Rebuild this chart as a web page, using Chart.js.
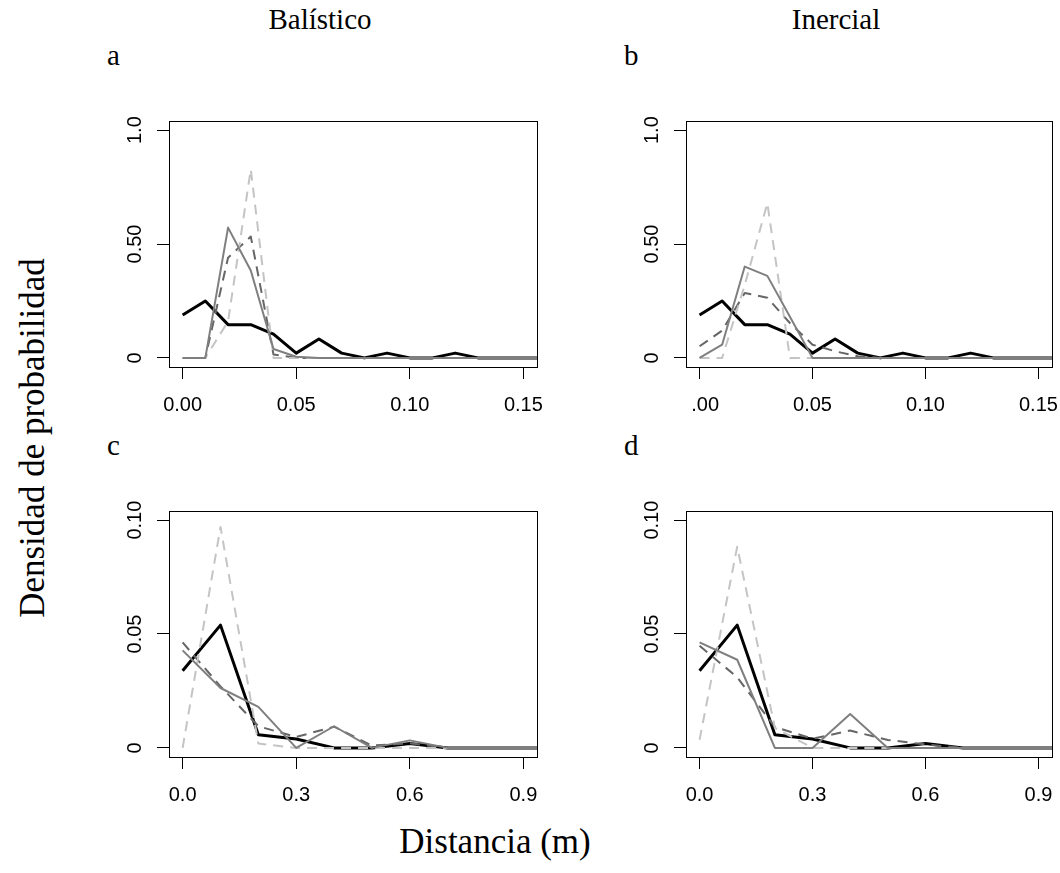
<!DOCTYPE html>
<html><head><meta charset="utf-8">
<script src="https://cdn.jsdelivr.net/npm/chart.js@4.4.1/dist/chart.umd.min.js"></script>
<style>
html,body{margin:0;padding:0;background:#fff;}
#wrap{position:relative;width:1060px;height:873px;overflow:hidden;background:#fff;}
.serif{position:absolute;font-family:"Liberation Serif","Times New Roman",serif;font-size:29px;line-height:30px;color:#000;white-space:nowrap;}
.big{font-size:35px;line-height:40px;}
canvas{position:absolute;}
</style></head><body>
<div id="wrap">
  <div class="serif" style="left:220px;width:200px;text-align:center;top:4px">Balístico</div>
  <div class="serif" style="left:736px;width:200px;text-align:center;top:4px">Inercial</div>
  <div class="serif" style="left:107px;top:40px">a</div>
  <div class="serif" style="left:624px;top:40px">b</div>
  <div class="serif" style="left:107px;top:430px">c</div>
  <div class="serif" style="left:624px;top:430px">d</div>
  <div class="serif big" style="left:-217px;top:418px;width:500px;text-align:center;transform:rotate(-90deg)">Densidad de probabilidad</div>
  <div class="serif big" style="left:245px;top:822px;width:500px;text-align:center">Distancia (m)</div>
</div>
<script>
// ---------- data ----------
const DIST_TOP = [0.00,0.01,0.02,0.03,0.04,0.05,0.06,0.07,0.08,0.09,0.10,0.11,0.12,0.13,0.14,0.15,0.16,0.17,0.18,0.19,0.20];
const DIST_BOTTOM = [0.0,0.1,0.2,0.3,0.4,0.5,0.6,0.7,0.8,0.9,1.0];

// panel a (Balístico, top)
const A_BLACK = [0.188,0.250,0.146,0.146,0.104,0.021,0.083,0.021,0,0.021,0,0,0.021,0,0,0,0,0,0,0,0];
const A_GRAY  = [0,0,0.572,0.384,0.039,0.005,0,0,0,0,0,0,0,0,0,0,0,0,0,0,0];
const A_DARKDASH  = [0,0,0.440,0.533,0.015,0,0,0,0,0,0,0,0,0,0,0,0,0,0,0,0];
const A_LIGHTDASH = [0,0,0.160,0.828,0,0,0,0,0,0,0,0,0,0,0,0,0,0,0,0,0];
// panel b (Inercial, top)
const B_BLACK = [0.188,0.250,0.146,0.146,0.104,0.021,0.083,0.021,0,0.021,0,0,0.021,0,0,0,0,0,0,0,0];
const B_GRAY  = [0,0.058,0.401,0.360,0.181,0,0,0,0,0,0,0,0,0,0,0,0,0,0,0,0];
const B_DARKDASH  = [0.051,0.120,0.285,0.264,0.153,0.058,0.029,0.007,0,0,0,0,0,0,0,0,0,0,0,0,0];
const B_LIGHTDASH = [0,0,0.320,0.679,0,0,0,0,0,0,0,0,0,0,0,0,0,0,0,0,0];
// panel c (Balístico, bottom)
const C_BLACK = [0.0339,0.0539,0.0058,0.0039,0,0,0.0019,0,0,0,0];
const C_GRAY  = [0.0428,0.0263,0.0180,0,0.0095,0,0.0033,0,0,0,0];
const C_DARKDASH  = [0.0463,0.0270,0.0095,0.0048,0.0093,0.0010,0.0020,0,0,0,0];
const C_LIGHTDASH = [0,0.0970,0.0019,0,0,0,0,0,0,0,0];
// panel d (Inercial, bottom)
const D_BLACK = [0.0339,0.0539,0.0058,0.0039,0,0,0.0019,0,0,0,0];
const D_GRAY  = [0.0463,0.0387,0,0,0.0149,0,0,0,0,0,0];
const D_DARKDASH  = [0.0448,0.0310,0.0092,0.0040,0.0076,0.0035,0.0015,0,0,0,0];
const D_LIGHTDASH = [0.0036,0.0883,0.0088,0,0,0,0,0,0,0,0];

// tick values and labels
const X_TICKS_TOP = [0,0.05,0.10,0.15];
const X_LABELS_TOP_A = ["0.00","0.05","0.10","0.15"];
const X_LABELS_TOP_B = [".00","0.05","0.10","0.15"];
const X_TICKS_BOTTOM = [0,0.3,0.6,0.9];
const X_LABELS_BOTTOM = ["0.0","0.3","0.6","0.9"];
const Y_TICKS_TOP = [0,0.5,1.0];
const Y_LABELS_TOP = ["0","0.50","1.0"];
const Y_TICKS_BOTTOM = [0,0.05,0.10];
const Y_LABELS_BOTTOM = ["0","0.05","0.10"];

// ---------- drawing ----------
const boxPlugin = {
  id: 'rbox',
  afterDatasetsDraw(chart, args, opts) {
    const {ctx, chartArea: a} = chart;
    ctx.save();
    ctx.strokeStyle = '#000'; ctx.lineWidth = 1;
    ctx.strokeRect(a.left + 0.5, a.top + 0.5, a.right - a.left, a.bottom - a.top);
    ctx.restore();
  },
  afterDraw(chart, args, opts) {
    const {ctx, chartArea: a, scales} = chart;
    ctx.save();
    ctx.fillStyle = '#000';
    ctx.font = '20px "Liberation Sans", Arial, sans-serif';
    ctx.textBaseline = 'middle';
    opts.xTicks.forEach((v, i) => {
      const px = scales.x.getPixelForValue(v);
      const lab = opts.xLabels[i];
      if (lab.charAt(0) === '.') {
        ctx.textAlign = 'right';
        ctx.fillText(lab, px + ctx.measureText('0' + lab).width / 2, a.bottom + 38);
      } else {
        ctx.textAlign = 'center';
        ctx.fillText(lab, px, a.bottom + 38);
      }
    });
    opts.yTicks.forEach((v, i) => {
      const py = scales.y.getPixelForValue(v);
      ctx.save();
      ctx.translate(a.left - 34, py);
      ctx.rotate(-Math.PI / 2);
      ctx.textAlign = 'center';
      ctx.fillText(opts.yLabels[i], 0, 0);
      ctx.restore();
    });
    ctx.restore();
  }
};

function series(xs, ys, color, width, dash, order) {
  return {
    data: xs.map((x, i) => ({x: x, y: ys[i]})),
    borderColor: color, borderWidth: width, borderDash: dash,
    borderJoinStyle: 'round', borderCapStyle: 'butt',
    pointRadius: 0, fill: false, tension: 0, clip: 0, order: order
  };
}

function makePanel(p) {
  const W = p.R - p.L + 80, H = p.B - p.T + 70;
  const c = document.createElement('canvas');
  c.width = W; c.height = H;
  c.style.left = (p.L - 70) + 'px'; c.style.top = (p.T - 10) + 'px';
  c.style.width = W + 'px'; c.style.height = H + 'px';
  document.getElementById('wrap').appendChild(c);
  const tickGrid = {display: true, drawOnChartArea: false, drawTicks: true, tickLength: 12, color: '#000', lineWidth: 1};
  new Chart(c, {
    type: 'line',
    data: {
      datasets: [
        series(p.xs, p.gray, '#7f7f7f', 2, [], 1),
        series(p.xs, p.light, '#c4c4c4', 2, [10, 7], 2),
        series(p.xs, p.dark, '#666666', 2, [10, 7], 3),
        series(p.xs, p.black, '#000000', 3, [], 4)
      ]
    },
    options: {
      responsive: false, animation: false, devicePixelRatio: 1,
      layout: {padding: {top: 10, right: 10, left: 0, bottom: 0}},
      plugins: {legend: {display: false}, tooltip: {enabled: false},
        rbox: {xTicks: p.xTicks, xLabels: p.xLabels, yTicks: p.yTicks, yLabels: p.yLabels}},
      scales: {
        x: {type: 'linear', position: 'bottom', min: p.xmin, max: p.xmax,
            afterBuildTicks: s => { s.ticks = p.xTicks.map(v => ({value: v})); },
            afterFit: s => { s.height = 60; },
            ticks: {display: false}, grid: tickGrid, border: {display: false}},
        y: {type: 'linear', position: 'left', min: p.ymin, max: p.ymax,
            afterBuildTicks: s => { s.ticks = p.yTicks.map(v => ({value: v})); },
            afterFit: s => { s.width = 70; },
            ticks: {display: false}, grid: tickGrid, border: {display: false}}
      }
    },
    plugins: [boxPlugin]
  });
}

const TOP_X = {xs: DIST_TOP, xmin: -0.006, xmax: 0.156, xTicks: X_TICKS_TOP, ymin: -0.04, ymax: 1.04, yTicks: Y_TICKS_TOP, yLabels: Y_LABELS_TOP};
const BOT_X = {xs: DIST_BOTTOM, xmin: -0.036, xmax: 0.936, xTicks: X_TICKS_BOTTOM, xLabels: X_LABELS_BOTTOM, ymin: -0.004, ymax: 0.104, yTicks: Y_TICKS_BOTTOM, yLabels: Y_LABELS_BOTTOM};

makePanel(Object.assign({}, TOP_X, {L: 169, T: 121, R: 537, B: 367, xLabels: X_LABELS_TOP_A, black: A_BLACK, gray: A_GRAY, dark: A_DARKDASH, light: A_LIGHTDASH}));
makePanel(Object.assign({}, TOP_X, {L: 686, T: 121, R: 1052, B: 367, xLabels: X_LABELS_TOP_B, black: B_BLACK, gray: B_GRAY, dark: B_DARKDASH, light: B_LIGHTDASH}));
makePanel(Object.assign({}, BOT_X, {L: 169, T: 511, R: 537, B: 757, black: C_BLACK, gray: C_GRAY, dark: C_DARKDASH, light: C_LIGHTDASH}));
makePanel(Object.assign({}, BOT_X, {L: 686, T: 511, R: 1052, B: 757, black: D_BLACK, gray: D_GRAY, dark: D_DARKDASH, light: D_LIGHTDASH}));
</script>
</body></html>
